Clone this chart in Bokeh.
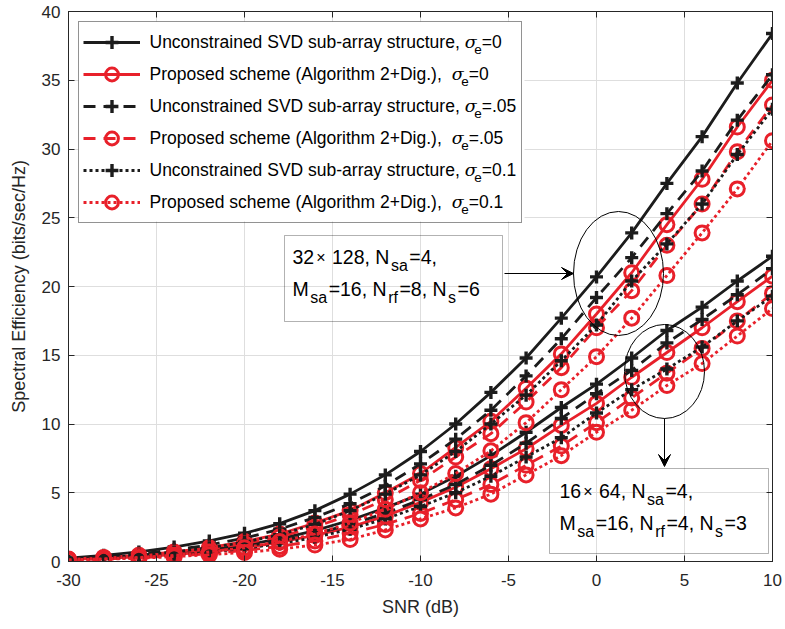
from bokeh.plotting import figure
from bokeh.models import (Range1d, Legend, LegendItem, Label, Arrow, VeeHead,
                          FixedTicker, BoxAnnotation, LinearAxis)
from bokeh.embed import file_html
from bokeh.resources import INLINE

# ---------------- data ----------------
snr = [-30, -28, -26, -24, -22, -20, -18, -16, -14, -12, -10,
       -8, -6, -4, -2, 0, 2, 4, 6, 8, 10]

# 32x128, Nsa=4, Msa=16, Nrf=8, Ns=6
t_u0 = [0.25, 0.45, 0.7, 1.05, 1.5, 2.05, 2.75, 3.7, 4.9, 6.3, 8.0,
        10.0, 12.3, 14.8, 17.7, 20.7, 23.9, 27.5, 30.9, 34.8, 38.4]
t_p0 = [0.18, 0.3, 0.45, 0.7, 1.0, 1.45, 2.0, 2.8, 3.7, 5.0, 6.4,
        8.3, 10.2, 12.6, 15.1, 18.0, 21.0, 24.5, 27.8, 31.6, 35.0]
t_u05 = [0.2, 0.35, 0.55, 0.85, 1.2, 1.7, 2.35, 3.2, 4.2, 5.5, 7.1,
         8.9, 11.0, 13.5, 16.2, 19.2, 22.1, 25.3, 28.4, 32.1, 35.4]
t_p05 = [0.15, 0.25, 0.4, 0.6, 0.9, 1.3, 1.8, 2.5, 3.4, 4.5, 5.9,
         7.6, 9.3, 11.6, 14.1, 17.0, 19.7, 23.0, 26.0, 29.8, 33.2]
t_u1 = [0.18, 0.3, 0.45, 0.7, 1.0, 1.4, 1.95, 2.7, 3.7, 4.9, 6.3,
        8.0, 10.0, 12.1, 14.6, 17.2, 20.4, 23.1, 26.0, 29.6, 32.9]
t_p1 = [0.12, 0.2, 0.3, 0.45, 0.7, 1.0, 1.45, 2.0, 2.8, 3.8, 5.0,
        6.4, 8.05, 10.1, 12.5, 14.9, 17.7, 20.8, 23.9, 27.1, 30.6]

# 16x64, Nsa=4, Msa=16, Nrf=4, Ns=3
b_u0 = [0.18, 0.27, 0.4, 0.6, 0.85, 1.2, 1.65, 2.25, 3.0, 3.9, 4.9,
        6.2, 7.7, 9.4, 11.2, 12.9, 14.8, 16.8, 18.5, 20.4, 22.2]
b_p0 = [0.15, 0.22, 0.34, 0.5, 0.72, 1.0, 1.4, 1.9, 2.5, 3.3, 4.3,
        5.4, 6.75, 8.2, 9.9, 11.5, 13.4, 15.2, 17.0, 18.9, 20.75]
b_u05 = [0.17, 0.25, 0.37, 0.55, 0.8, 1.1, 1.5, 2.0, 2.7, 3.5, 4.5,
         5.6, 7.0, 8.6, 10.4, 12.2, 13.9, 15.9, 17.6, 19.4, 21.3]
b_p05 = [0.12, 0.18, 0.27, 0.4, 0.57, 0.8, 1.1, 1.5, 2.05, 2.7, 3.5,
         4.5, 5.6, 7.0, 8.4, 10.1, 11.9, 13.7, 15.5, 17.5, 19.5]
b_u1 = [0.14, 0.21, 0.32, 0.47, 0.68, 0.95, 1.3, 1.75, 2.35, 3.1, 4.0,
        5.0, 6.2, 7.6, 9.0, 10.8, 12.5, 14.0, 15.6, 17.5, 19.3]
b_p1 = [0.1, 0.16, 0.24, 0.35, 0.5, 0.65, 0.9, 1.2, 1.6, 2.3, 3.1,
        3.9, 4.9, 6.3, 7.7, 9.4, 11.0, 12.8, 14.4, 16.4, 18.4]

x_ticks = [-30, -25, -20, -15, -10, -5, 0, 5, 10]
y_ticks = [0, 5, 10, 15, 20, 25, 30, 35, 40]

legend_main = ["Unconstrained SVD sub-array structure,",
               "Proposed scheme (Algorithm 2+Dig.),",
               "Unconstrained SVD sub-array structure,",
               "Proposed scheme (Algorithm 2+Dig.),",
               "Unconstrained SVD sub-array structure,",
               "Proposed scheme (Algorithm 2+Dig.),"]
legend_sigma = ["=0", "=0", "=.05", "=.05", "=0.1", "=0.1"]

# annotation texts: (text, kind) 0 = normal, 1 = subscript, 2 = small symbol
box1_line1 = [("32", 0), ("×", 2), (" 128, N", 0), ("sa", 1), ("=4,", 0)]
box1_line2 = [("M", 0), ("sa", 1), ("=16, N", 0), ("rf", 1), ("=8, N", 0), ("s", 1), ("=6", 0)]
box2_line1 = [("16", 0), ("×", 2), (" 64, N", 0), ("sa", 1), ("=4,", 0)]
box2_line2 = [("M", 0), ("sa", 1), ("=16, N", 0), ("rf", 1), ("=4, N", 0), ("s", 1), ("=3", 0)]

# ---------------- styling ----------------
BLACK = "#1c1c1c"
RED = "#e8202a"
AX = "#262626"
FONT = "Liberation Sans"

W, H = 785, 629
FL, FR, FT, FB = 68, 772, 11, 561   # frame in page pixels
XMIN, XMAX, YMIN, YMAX = -30, 10, 0, 40

# Arial advance widths (per 1000 em)
AW = {' ': 278, ',': 278, '.': 278, '=': 584, '×': 584, 'N': 722, 'M': 833,
      's': 500, 'a': 556, 'r': 333, 'f': 278, 'e': 556, '(': 333, ')': 333,
      '+': 584, '-': 333, 'A': 667, 'D': 722, 'P': 667, 'S': 667, 'U': 722,
      'V': 667, 'b': 556, 'c': 500, 'd': 556, 'g': 556, 'h': 556, 'i': 222,
      'l': 222, 'm': 833, 'n': 556, 'o': 556, 'p': 556, 't': 278, 'u': 556,
      'y': 500}
for d in "0123456789":
    AW[d] = 556


def tw(s, size):
    return sum(AW.get(c, 556) for c in s) * size / 1000.0


def dx(px):
    return XMIN + (px - FL) * (XMAX - XMIN) / (FR - FL)


def dy(py):
    return YMIN + (FB - py) * (YMAX - YMIN) / (FB - FT)


p = figure(width=W, height=H, x_range=Range1d(XMIN, XMAX), y_range=Range1d(YMIN, YMAX),
           output_backend="svg", toolbar_location=None,
           min_border_left=FL, min_border_right=W - FR, min_border_top=FT,
           min_border_bottom=H - FB)
p.background_fill_color = "white"
p.border_fill_color = "white"
p.outline_line_color = AX
p.outline_line_width = 1

# box-style ticks on top and right (no labels)
p.add_layout(LinearAxis(ticker=FixedTicker(ticks=x_ticks),
                        major_label_overrides={t: "" for t in x_ticks},
                        major_label_standoff=0), "above")
p.add_layout(LinearAxis(ticker=FixedTicker(ticks=y_ticks),
                        major_label_overrides={t: "" for t in y_ticks},
                        major_label_standoff=0), "right")

for ax in p.xaxis + p.yaxis:
    ax.major_tick_in = 6
    ax.major_tick_out = 0
    ax.minor_tick_line_color = None
    ax.axis_line_color = AX
    ax.major_tick_line_color = AX
    ax.major_label_text_font = FONT
    ax.major_label_text_font_size = "17px"
    ax.major_label_text_color = AX
    ax.axis_label_text_font = FONT
    ax.axis_label_text_font_size = "18px"
    ax.axis_label_text_color = AX
    ax.axis_label_text_font_style = "normal"

xa, ya = p.below[0], p.left[0]
xa.ticker = FixedTicker(ticks=x_ticks)
ya.ticker = FixedTicker(ticks=y_ticks)
xa.major_label_overrides = {t: str(t) for t in x_ticks}
ya.major_label_overrides = {t: str(t) for t in y_ticks}
xa.axis_label = "SNR (dB)"
ya.axis_label = "Spectral Efficiency (bits/sec/Hz)"
xa.major_label_standoff = 12
ya.major_label_standoff = 8
xa.axis_label_standoff = 8
ya.axis_label_standoff = 10
p.grid.grid_line_color = "#dedede"
p.grid.grid_line_width = 1
p.xgrid.ticker = FixedTicker(ticks=x_ticks)
p.ygrid.ticker = FixedTicker(ticks=y_ticks)

# white backing for the legend (legend itself is transparent so texts show)
p.add_layout(BoxAnnotation(left=dx(78), right=dx(524), top=dy(21), bottom=dy(221),
                           fill_color="white", fill_alpha=1.0, line_color=None))

styles = [
    (t_u0, b_u0, BLACK, "solid", "cross"),
    (t_p0, b_p0, RED, "solid", "circle"),
    (t_u05, b_u05, BLACK, "12 8", "cross"),
    (t_p05, b_p05, RED, "12 8", "circle"),
    (t_u1, b_u1, BLACK, "3 3", "cross"),
    (t_p1, b_p1, RED, "3 3", "circle"),
]

items = []
for tvals, bvals, col, dash, mk in styles:
    rs = []
    for vals in (tvals, bvals):
        lr = p.line(snr, vals, line_color=col, line_width=2.8, line_dash=dash)
        if mk == "cross":
            sr = p.scatter(snr, vals, marker="cross", size=13, line_width=3.4,
                           line_color=col)
        else:
            sr = p.scatter(snr, vals, marker="circle", size=14, line_width=3,
                           line_color=col, fill_color=None)
        rs.append((lr, sr))
    items.append(LegendItem(label=" ", renderers=[rs[0][0], rs[0][1]]))

legend = Legend(items=items, location="top_left", margin=10, padding=4,
                glyph_width=57, glyph_height=32, label_height=32, spacing=0,
                label_standoff=9, label_width=368,
                border_line_color=AX, border_line_width=1,
                background_fill_alpha=0.0,
                label_text_font_size="17px")
p.add_layout(legend)


def txt(s, px, py, size, italic=False, font=FONT, color="#000000"):
    p.add_layout(Label(x=dx(px), y=dy(py), text=s, text_font=font,
                       text_font_size=f"{size}px", text_baseline="middle",
                       text_align="left", text_color=color, level="overlay",
                       text_font_style="italic" if italic else "normal"))


# legend texts
LS = 17.5
for i in range(6):
    cy = 41 + 32 * i
    txt(legend_main[i], 149, cy, LS)
    end = 149 + tw(legend_main[i], LS)
    sx = end + (5 if i % 2 == 0 else 10)
    txt("σ", sx, cy, LS, italic=True, font="DejaVu Serif")
    ex = sx + 9.5
    txt("e", ex, cy + 8, 13.5)
    txt(legend_sigma[i], ex + 7.5, cy, LS)


def seq(parts, x0, py, main=19.5, sub=16):
    x = x0
    for s, kind in parts:
        if kind == 1:
            x += 1.5
            txt(s, x, py + 9, sub)
            x += tw(s, sub) + 1.5
        elif kind == 2:
            x += 2
            txt(s, x, py + 1, sub)
            x += tw(s, sub) + 1
        else:
            lead = len(s) - len(s.lstrip(" "))
            x += tw(" " * lead, main)
            s2 = s.lstrip(" ")
            txt(s2, x, py, main)
            x += tw(s2, main)


# annotation box 1
p.add_layout(BoxAnnotation(left=dx(284), right=dx(502), top=dy(235), bottom=dy(321),
                           fill_alpha=0, line_color="black", line_width=1))
seq(box1_line1, 292, 256)
seq(box1_line2, 292, 288)

# annotation box 2
p.add_layout(BoxAnnotation(left=dx(549), right=dx(768), top=dy(468), bottom=dy(553),
                           fill_alpha=0, line_color="black", line_width=1))
seq(box2_line1, 559, 490)
seq(box2_line2, 559, 522)

# ellipses and arrows
p.ellipse(x=[dx(618), dx(664)], y=[dy(273), dy(371)],
          width=[90 * 40 / 704, 80 * 40 / 704], height=[124 * 40 / 550, 94 * 40 / 550],
          fill_color=None, line_color="black", line_width=1)
p.add_layout(Arrow(end=VeeHead(size=12, fill_color="black", line_color="black"),
                   x_start=dx(504), y_start=dy(273), x_end=dx(573), y_end=dy(273),
                   line_color="black", line_width=1))
p.add_layout(Arrow(end=VeeHead(size=12, fill_color="black", line_color="black"),
                   x_start=dx(664), y_start=dy(418), x_end=dx(664), y_end=dy(466),
                   line_color="black", line_width=1))

open("out.html", "w").write(file_html(p, INLINE))
